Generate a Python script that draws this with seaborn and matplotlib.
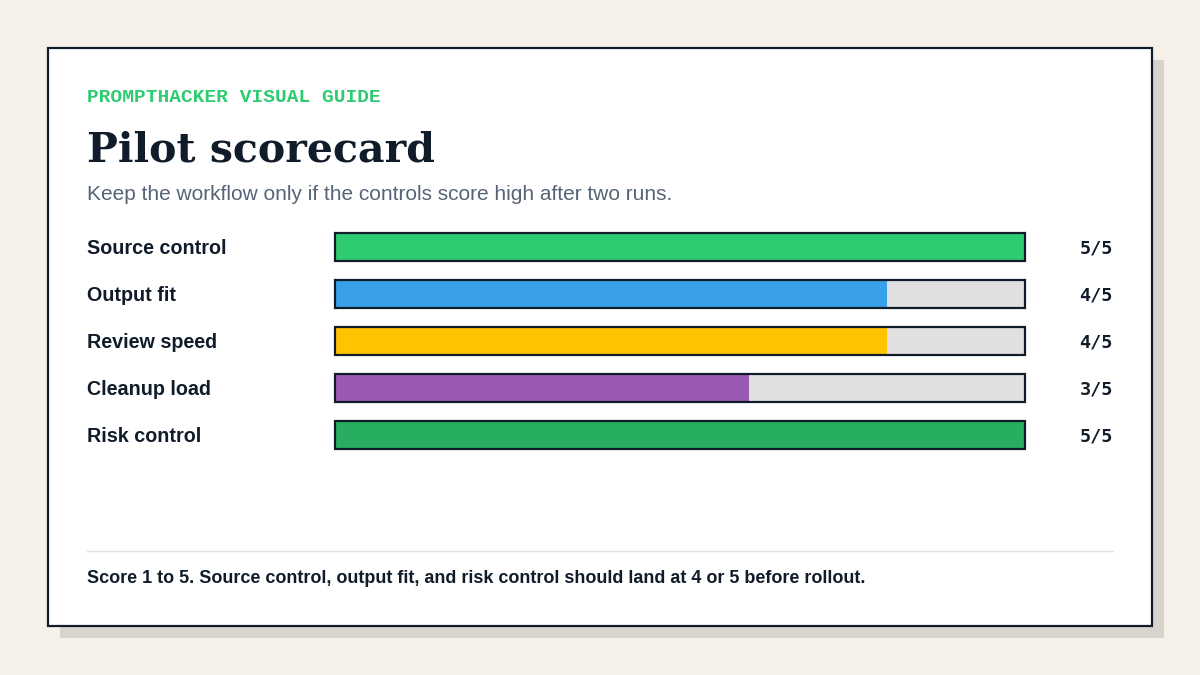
import matplotlib
matplotlib.use("Agg")
import matplotlib.pyplot as plt
import matplotlib.transforms as mtransforms
from matplotlib.patches import Rectangle
from matplotlib.lines import Line2D
import seaborn as sns
import pandas as pd

# ---- data ----
categories = ["Source control", "Output fit", "Review speed", "Cleanup load", "Risk control"]
scores = [5, 4, 4, 3, 5]
max_score = 5
value_labels = ["5/5", "4/5", "4/5", "3/5", "5/5"]
bar_colors = ["#2ecc71", "#38a1e9", "#ffc300", "#9b59b6", "#27ae60"]
kicker = "PROMPTHACKER VISUAL GUIDE"
title = "Pilot scorecard"
subtitle = "Keep the workflow only if the controls score high after two runs."
footer = "Score 1 to 5. Source control, output fit, and risk control should land at 4 or 5 before rollout."

df = pd.DataFrame({"category": categories, "score": scores,
                   "full": [max_score] * len(categories)})

sns.set_theme(style="white")
plt.rcParams["font.family"] = ["Liberation Sans", "DejaVu Sans"]

W, H = 1200, 675
fig = plt.figure(figsize=(12, 6.75), dpi=100)
fig.patch.set_facecolor("#f5f0e8")

def fx(x):
    return x / W

def fy(y):
    return 1 - y / H

DARK = "#111c2b"
# shadow
fig.patches.append(Rectangle((fx(60), fy(638)), fx(1104), 578 / H, transform=fig.transFigure,
                             facecolor="#d6d4cd", edgecolor="none", zorder=0))
# card
fig.patches.append(Rectangle((fx(48), fy(626)), fx(1104), 578 / H, transform=fig.transFigure,
                             facecolor="white", edgecolor=DARK, linewidth=1.6, zorder=1))

# texts
fig.text(fx(87), fy(101.5), kicker, fontsize=14, family="Liberation Mono", fontweight="bold",
         color="#2ecc71", va="baseline", ha="left", zorder=3)
fig.text(fx(87), fy(161), title, fontsize=29.6, family="DejaVu Serif", fontweight="bold",
         color=DARK, va="baseline", ha="left", zorder=3)
fig.text(fx(87), fy(195), subtitle, fontsize=15, color="#566477", va="center", ha="left", zorder=3)

# bars axis: rows centered at 247..435, spacing 47
row_gap = 47
top = 247 - row_gap / 2
bottom = 435 + row_gap / 2
ax = fig.add_axes([fx(335), fy(bottom), fx(1025 - 335), (bottom - top) / H])
ax.set_zorder(5)
ax.set_facecolor("none")
bar_w = 28 / row_gap

sns.barplot(data=df, x="full", y="category", ax=ax, color="#e0e0e0", width=bar_w,
            saturation=1, edgecolor="none", linewidth=0, orient="h")
sns.barplot(data=df, x="score", y="category", hue="category", palette=bar_colors, ax=ax,
            width=bar_w, saturation=1, edgecolor="none", linewidth=0, legend=False, orient="h")
sns.barplot(data=df, x="full", y="category", ax=ax, fill=False, width=bar_w,
            edgecolor=DARK, linewidth=1.6, orient="h")
for p in ax.patches:
    p.set_clip_on(False)

ax.set_xlim(0, max_score)
ax.set_ylim(len(categories) - 0.5, -0.5)
ax.axis("off")

blend = mtransforms.blended_transform_factory(fig.transFigure, ax.transData)
for i, (cat, lab) in enumerate(zip(categories, value_labels)):
    ax.text(fx(87), i + 7.2 / row_gap, cat, transform=blend, fontsize=14.2, fontweight="bold",
            color=DARK, va="baseline", ha="left", clip_on=False)
    ax.text(fx(1113), i + 6.3 / row_gap, lab, transform=blend, fontsize=13.3,
            family="DejaVu Sans Mono", fontweight="bold", color=DARK, va="baseline",
            ha="right", clip_on=False)

fig.add_artist(Line2D([fx(87), fx(1113)], [fy(551), fy(551)], transform=fig.transFigure,
                      color="#e3e3e3", linewidth=1, zorder=2))
fig.text(fx(87), fy(583), footer, fontsize=12.95, fontweight="bold", color=DARK,
         va="baseline", ha="left", zorder=3)

fig.savefig("out.png", dpi=100, facecolor=fig.get_facecolor())
